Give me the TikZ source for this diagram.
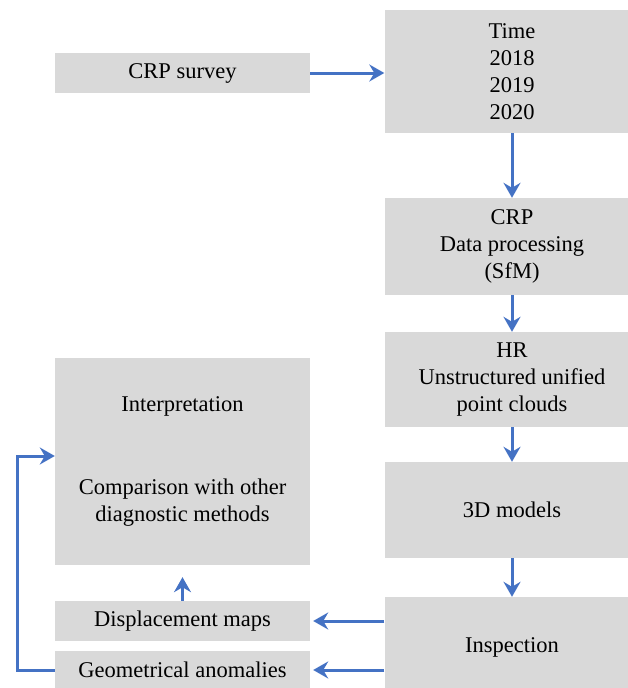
\documentclass[tikz,border=0pt]{standalone}
\usepackage{fontspec}
\setmainfont{Liberation Serif}
\usetikzlibrary{arrows.meta}
\definecolor{boxgray}{HTML}{D9D9D9}
\definecolor{flowblue}{HTML}{4472C4}
\begin{document}
\begin{tikzpicture}[x=1pt, y=-1pt,
  box/.style={fill=boxgray, align=center, minimum width=255pt, inner sep=0pt,
    font=\fontsize{22.5}{27}\selectfont},
  flow/.style={-{Stealth[length=15pt, width=17pt, inset=5pt]}, flowblue, line width=3pt}]
  \useasboundingbox (0,0) rectangle (628,688);
  \node[box, minimum height=40pt] (survey) at (182.5, 73) {CRP survey};
  \node[box, minimum height=123pt] (time) at (512, 71.5) {Time\\2018\\2019\\2020};
  \node[box, minimum height=97pt] (proc) at (512, 246.5) {CRP\\Data processing\\(SfM)};
  \node[box, minimum height=95pt] (cloud) at (512, 379.5) {HR\\Unstructured unified\\point clouds};
  \node[box, minimum height=96pt] (models) at (512, 510) {3D models};
  \node[box, minimum height=100pt] (insp) at (512, 647) {Inspection};
  \node[box, minimum height=207pt] (interp) at (182.5, 461.5)
    {Interpretation\\[56pt]Comparison with other\\diagnostic methods};
  \node[box, minimum height=40pt] (disp) at (182.5, 621) {Displacement maps};
  \node[box, minimum height=38pt] (anom) at (182.5, 670) {Geometrical anomalies};
  \draw[flow]
  (survey) edge (survey -| time.west)
  (time) edge (proc)
  (proc) edge (cloud)
  (cloud) edge (models)
  (models) edge (insp);
  \draw[flow, shorten >=3pt] (insp.west |- disp) -- (disp.east);
  \draw[flow, shorten >=3pt] (insp.west |- anom) -- (anom.east);
  \draw[flow, shorten >=12pt] (disp) -- (interp);
  \draw[flow] (anom.west) -- ++(-37,0) |- ([yshift=5.5pt]interp.west);
\end{tikzpicture}
\end{document}
